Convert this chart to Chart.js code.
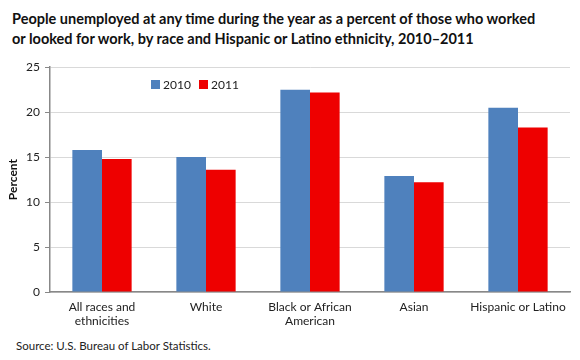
<!DOCTYPE html>
<html>
<head>
<meta charset="utf-8">
<script src="https://cdn.jsdelivr.net/npm/chart.js@4/dist/chart.umd.min.js"></script>
<style>
  body { margin: 0; width: 580px; height: 360px; background: #fff; position: relative; font-family: Lato, "Open Sans", sans-serif; }
  #title { position: absolute; left: 12px; top: 9px; font-weight: bold; font-size: 14.5px; line-height: 20px; color: #111; }
  #wrap { position: absolute; left: 0; top: 55px; width: 580px; height: 280px; }
  #source { position: absolute; left: 16px; top: 339px; font-size: 11.5px; color: #222; }
</style>
</head>
<body>
<div id="title">People unemployed at any time during the year as a percent of those who worked<br>or looked for work, by race and Hispanic or Latino ethnicity, 2010–2011</div>
<div id="wrap"><canvas id="chart"></canvas></div>
<div id="source">Source: U.S. Bureau of Labor Statistics.</div>
<script>
const categories = [['All races and', 'ethnicities'], 'White', ['Black or African', 'American'], 'Asian', 'Hispanic or Latino'];
const values2010 = [15.8, 15.0, 22.5, 12.9, 20.5];
const values2011 = [14.8, 13.6, 22.2, 12.2, 18.3];
const yTicks = [0, 5, 10, 15, 20, 25];

// legend drawn inside the plot area, like the original
const innerLegend = {
  id: 'innerLegend',
  afterDraw(chart) {
    const c = chart.ctx;
    c.save();
    c.font = '12px Lato, "Open Sans", sans-serif';
    c.textBaseline = 'middle';
    let x = 151;
    const y = 30;
    chart.data.datasets.forEach(ds => {
      c.fillStyle = ds.backgroundColor;
      c.fillRect(x, y - 5, 9, 9);
      c.fillStyle = '#222';
      c.fillText(ds.label, x + 12, y);
      x += 48;
    });
    c.restore();
  }
};

var ctx = document.getElementById('chart');
var myChart = new Chart(ctx, {
  type: 'bar',
  data: {
    labels: categories,
    datasets: [
      { label: '2010', data: values2010, backgroundColor: '#4F81BD' },
      { label: '2011', data: values2011, backgroundColor: '#EE0000' }
    ]
  },
  options: {
    responsive: true,
    maintainAspectRatio: false,
    animation: false,
    layout: { padding: { top: 0, right: 10, left: 0, bottom: 0 } },
    datasets: { bar: { categoryPercentage: 0.57, barPercentage: 1.0 } },
    plugins: { legend: { display: false }, tooltip: { enabled: false } },
    scales: {
      x: {
        grid: { display: false, drawTicks: false },
        border: { color: '#888', width: 1.5 },
        ticks: { color: '#222', font: { size: 12, family: 'Lato, "Open Sans", sans-serif' }, maxRotation: 0, autoSkip: false, padding: 8 },
        afterFit(scale) { scale.height = 43; }
      },
      y: {
        min: 0, max: 25,
        afterBuildTicks(scale) { scale.ticks = yTicks.map(v => ({ value: v })); },
        grid: { color: '#d9d9d9', lineWidth: 1, tickLength: 5, tickColor: '#888' },
        border: { color: '#888', width: 1.5 },
        ticks: { color: '#222', font: { size: 12, family: 'Lato, "Open Sans", sans-serif' }, padding: 5 },
        title: { display: true, text: 'Percent', color: '#111', font: { size: 12, weight: 'bold', family: 'Lato, "Open Sans", sans-serif' }, padding: { top: 6, bottom: 2 } },
        afterFit(scale) { scale.width = 50; }
      }
    }
  },
  plugins: [innerLegend]
});
</script>
</body>
</html>
